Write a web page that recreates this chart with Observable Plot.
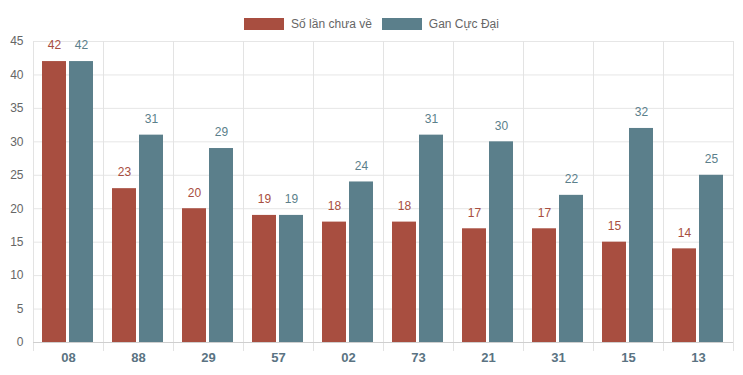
<!DOCTYPE html>
<html>
<head>
<meta charset="utf-8">
<script src="https://cdn.jsdelivr.net/npm/d3@7"></script>
<script src="https://cdn.jsdelivr.net/npm/@observablehq/plot@0.6"></script>
<style>
  body { margin: 0; background: #fff; font-family: "Liberation Sans", Arial, Helvetica, sans-serif; }
  #legend { height: 32px; box-sizing: border-box; padding-top: 18px; display: flex; justify-content: center; gap: 10px; font-size: 12px; color: #666; }
  #legend .item { display: flex; align-items: center; height: 12px; gap: 7px; }
  #legend .sw { width: 40px; height: 12px; display: inline-block; }
  #chart svg { display: block; }
  #chart g[aria-label^="fx-axis"] text { font-weight: 700; fill: #5a7382; font-size: 13px; }
  #chart g[aria-label^="y-axis"] text { fill: #666; font-size: 12px; }
</style>
</head>
<body>
<div id="legend"></div>
<div id="chart"></div>
<script>
const categories = ["08","88","29","57","02","73","21","31","15","13"];
const seriesA = [42,23,20,19,18,18,17,17,15,14];
const seriesB = [42,31,29,19,24,31,30,22,32,25];
const seriesNames = ["Số lần chưa về","Gan Cực Đại"];
const colors = ["#a84e40","#5b7f8b"];
const yTicks = [0,5,10,15,20,25,30,35,40,45];

const data = categories.flatMap((c, i) => [
  {cat: c, series: seriesNames[0], value: seriesA[i]},
  {cat: c, series: seriesNames[1], value: seriesB[i]}
]);

const legend = document.getElementById("legend");
seriesNames.forEach((n, i) => {
  const it = document.createElement("span");
  it.className = "item";
  const sw = document.createElement("span");
  sw.className = "sw";
  sw.style.background = colors[i];
  const t = document.createElement("span");
  t.textContent = n;
  it.appendChild(sw); it.appendChild(t);
  legend.appendChild(it);
});

const chart = Plot.plot({
  width: 743,
  height: 343,
  marginTop: 9,
  marginBottom: 33,
  marginLeft: 33,
  marginRight: 10,
  style: {fontFamily: "Liberation Sans, Arial, Helvetica, sans-serif", fontSize: "12px", background: "#fff"},
  fx: {domain: categories, padding: 0, axis: "bottom", tickSize: 0, tickPadding: 10, label: null},
  x: {domain: seriesNames, paddingInner: 0.107, paddingOuter: 0.304, axis: null},
  y: {domain: [0, 45], ticks: yTicks, tickSize: 0, tickPadding: 10, label: null},
  color: {domain: seriesNames, range: colors},
  marks: [
    Plot.ruleY(yTicks.slice(1), {stroke: "#e6e6e6"}),
    Plot.frame({anchor: "left", stroke: "#e3e3e3", insetBottom: -8}),
    Plot.frame({anchor: "right", stroke: "#e3e3e3", insetBottom: -8}),
    Plot.barY(data, {fx: "cat", x: "series", y: "value", fill: "series"}),
    Plot.ruleY([0], {stroke: "#cfcfcf"}),
    Plot.text(data, {fx: "cat", x: "series", y: "value", text: d => String(d.value), fill: "series", dy: -16, fontSize: 12})
  ]
});
document.getElementById("chart").appendChild(chart);
</script>
</body>
</html>
